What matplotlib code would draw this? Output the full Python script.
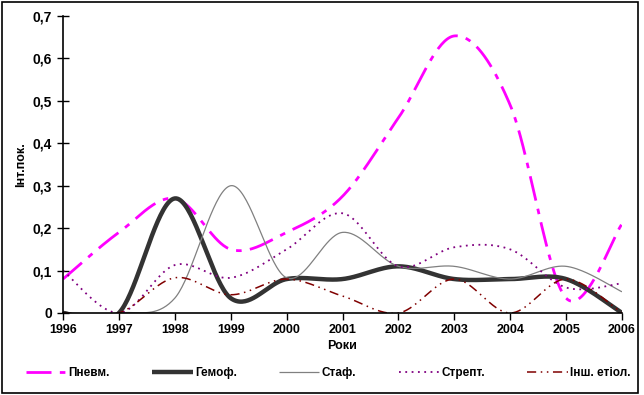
import numpy as np
import matplotlib
matplotlib.use("Agg")
import matplotlib.pyplot as plt

plt.rcParams['font.family'] = ['Liberation Sans', 'DejaVu Sans']

years = [1996, 1997, 1998, 1999, 2000, 2001, 2002, 2003, 2004, 2005, 2006]
pnevm = [0.08, 0.19, 0.27, 0.15, 0.19, 0.275, 0.46, 0.653, 0.49, 0.035, 0.21]
gemof = [0.0, 0.0, 0.27, 0.035, 0.08, 0.08, 0.11, 0.08, 0.08, 0.08, 0.0]
staf = [0.0, 0.0, 0.035, 0.30, 0.083, 0.19, 0.11, 0.11, 0.08, 0.11, 0.05]
strep = [0.10, 0.0, 0.113, 0.083, 0.15, 0.235, 0.11, 0.155, 0.15, 0.06, 0.07]
insh = [0.0, 0.0, 0.083, 0.043, 0.08, 0.04, 0.0, 0.08, 0.0, 0.08, 0.0]

labels = ['Пневм.', 'Гемоф.', 'Стаф.', 'Стрепт.', 'Інш. етіол.']
yticks = [0, 0.1, 0.2, 0.3, 0.4, 0.5, 0.6, 0.7]
ytick_labels = ['0', '0,1', '0,2', '0,3', '0,4', '0,5', '0,6', '0,7']


def smooth(xs, ys, n=40):
    xs = np.asarray(xs, float)
    ys = np.asarray(ys, float)
    P = np.column_stack([xs, ys])
    out = []
    m = len(P)
    for i in range(m - 1):
        p0 = P[i - 1] if i > 0 else P[i]
        p1 = P[i]
        p2 = P[i + 1]
        p3 = P[i + 2] if i + 2 < m else P[i + 1]
        c1 = p1 + (p2 - p0) / 6.0
        c2 = p2 - (p3 - p1) / 6.0
        t = np.linspace(0, 1, n)[:, None]
        seg = ((1 - t) ** 3) * p1 + 3 * ((1 - t) ** 2) * t * c1 + 3 * (1 - t) * t ** 2 * c2 + t ** 3 * p2
        if i > 0:
            seg = seg[1:]
        out.append(seg)
    arr = np.vstack(out)
    return arr[:, 0], arr[:, 1]


fig = plt.figure(figsize=(6.44, 3.95), dpi=100)
ax = fig.add_axes([63 / 644, (395 - 313) / 395, (622 - 63) / 644, (313 - 16) / 395])

styles = [
    dict(color='#FF00FF', lw=2.0, dashes=(9, 3, 2, 3)),
    dict(color='#333333', lw=3.2),
    dict(color='#808080', lw=0.9),
    dict(color='#800080', lw=1.3, dashes=(1, 2.5)),
    dict(color='#800000', lw=1.1, dashes=(6, 3, 1, 3, 1, 3)),
]
series = [pnevm, gemof, staf, strep, insh]
handles = []
for vals, st, lab in zip(series, styles, labels):
    sx, sy = smooth(years, vals)
    kw = dict(st)
    dashes = kw.pop('dashes', None)
    ln, = ax.plot(sx, sy, label=lab, solid_capstyle='butt', **kw)
    if dashes is not None:
        ln.set_dashes(dashes)
    handles.append(ln)

ax.set_xlim(1996, 2006)
ax.set_ylim(0, 0.7)
ax.set_xticks(years)
ax.set_xticklabels([str(y) for y in years], fontsize=9, fontweight='bold')
ax.set_yticks(yticks)
ax.set_yticklabels(ytick_labels, fontsize=10, fontweight='bold')
ax.tick_params(axis='x', direction='out', length=5, width=1, pad=3)
ax.tick_params(axis='y', direction='inout', length=8, width=1, pad=4)
for s in ['top', 'right']:
    ax.spines[s].set_visible(False)
for s in ['left', 'bottom']:
    ax.spines[s].set_linewidth(1.2)
ax.set_xlabel('Роки', fontsize=9, fontweight='bold', labelpad=3)
ax.set_ylabel('Інт.пок.', fontsize=9, fontweight='bold', labelpad=4)

fig.legend(handles=handles, labels=labels, loc='center left', ncol=5,
           bbox_to_anchor=(26 / 644, (395 - 373) / 395), frameon=False,
           borderpad=0, borderaxespad=0,
           prop=dict(size=8.5, weight='bold'), handlelength=3.4,
           handletextpad=0.2, columnspacing=3.6)

fig.patches.append(plt.Rectangle((0.003, 0.004), 0.988, 0.992, transform=fig.transFigure,
                                 fill=False, edgecolor='black', lw=1.2))

fig.savefig('out.png', dpi=100)
